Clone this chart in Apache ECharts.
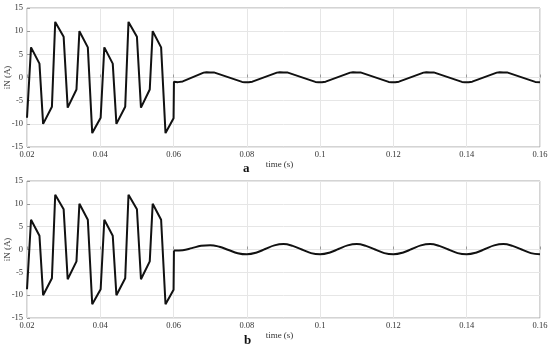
<!DOCTYPE html>
<html>
<head>
<meta charset="utf-8">
<script src="https://cdn.jsdelivr.net/npm/echarts@6/dist/echarts.min.js"></script>
<style>html,body{margin:0;padding:0;background:#fff}#c{width:550px;height:350px}</style>
</head>
<body>
<div id="c"></div>
<script>
// switching interval (identical in a and b), t in s, iN in A
var swTime = [0.0200,0.0211,0.0234,0.0244,0.0268,0.0277,0.0300,0.0311,0.0335,0.0343,0.0366,0.0378,
              0.0401,0.0411,0.0434,0.0444,0.0468,0.0477,0.0500,0.0511,0.0535,0.0543,0.0566,0.0578,0.0600];
var swCurr = [-8.7,6.5,3.0,-10.0,-6.3,12.0,8.8,-6.5,-2.6,10.0,6.5,-12.0,
              -8.7,6.5,3.0,-10.0,-6.3,12.0,8.8,-6.5,-2.6,10.0,6.5,-12.0,-8.8];

// (a) after 0.06 s
var aTime = [0.0601,0.0612,0.0625,0.0682,0.0690,0.0700,0.0710,
             0.0787,0.0795,0.0805,0.0815,0.0882,0.0890,0.0900,0.0910,
             0.0987,0.0995,0.1005,0.1015,0.1082,0.1090,0.1100,0.1110,
             0.1187,0.1195,0.1205,0.1215,0.1282,0.1290,0.1300,0.1310,
             0.1387,0.1395,0.1405,0.1415,0.1482,0.1490,0.1500,0.1510,
             0.1587,0.1600];
var aCurr = [-0.9,-1.0,-0.85,1.05,1.15,1.1,1.1,
             -0.95,-1.0,-1.0,-0.9,1.05,1.15,1.1,1.1,
             -0.95,-1.0,-1.0,-0.9,1.05,1.15,1.1,1.1,
             -0.95,-1.0,-1.0,-0.9,1.05,1.15,1.1,1.1,
             -0.95,-1.0,-1.0,-0.9,1.05,1.15,1.1,1.1,
             -0.95,-1.0];

// (b) after 0.06 s
var bTime = [0.0601,0.0625,0.0650,0.0675,0.0700,0.0725,0.0750,0.0775,0.0800,0.0825,0.0850,0.0875,
             0.0900,0.0925,0.0950,0.0975,0.1000,0.1025,0.1050,0.1075,0.1100,0.1125,0.1150,0.1175,
             0.1200,0.1225,0.1250,0.1275,0.1300,0.1325,0.1350,0.1375,0.1400,0.1425,0.1450,0.1475,
             0.1500,0.1525,0.1550,0.1575,0.1600];
var bCurr = [-0.2,-0.15,0.3,0.8,0.95,0.6,-0.1,-0.8,-1.05,-0.7,0.1,0.9,
             1.2,0.8,0.0,-0.8,-1.05,-0.7,0.1,0.9,1.2,0.8,0.0,-0.8,
             -1.05,-0.7,0.1,0.9,1.2,0.8,0.0,-0.8,-1.05,-0.7,0.1,0.9,
             1.2,0.8,0.0,-0.8,-1.05];

var xTicks = [0.02,0.04,0.06,0.08,0.1,0.12,0.14,0.16];
var yTicks = [-15,-10,-5,0,5,10,15];
var yName = 'iN (A)', xName = 'time (s)';

function pairs(t, v){ return t.map(function(x,i){ return [x, v[i]]; }); }
var swPairs = pairs(swTime, swCurr);

var font = 'Liberation Serif';
function xAx(gi){
  return {
    type:'value', gridIndex:gi, min:xTicks[0], max:xTicks[xTicks.length-1], interval:0.02,
    name:xName, nameLocation:'middle', nameGap:13, nameMoveOverlap:false,
    nameTextStyle:{fontFamily:font, fontSize:9, color:'#333', padding:[0,0,0,-8]},
    axisLine:{show:false},
    axisTick:{show:true, inside:true, length:3, lineStyle:{color:'#999'}},
    axisLabel:{fontFamily:font, fontSize:8.5, color:'#333', margin:3,
      formatter:function(v){ return String(parseFloat(v.toFixed(3))); }},
    splitLine:{show:true, lineStyle:{color:'#e6e6e6', width:1}}
  };
}
function yAx(gi){
  return {
    type:'value', gridIndex:gi, min:yTicks[0], max:yTicks[yTicks.length-1], interval:5,
    name:yName, nameLocation:'middle', nameGap:15, nameRotate:90, nameMoveOverlap:false,
    nameTextStyle:{fontFamily:font, fontSize:9, color:'#333'},
    axisLine:{show:false},
    axisTick:{show:true, inside:true, length:3, lineStyle:{color:'#999'}},
    axisLabel:{fontFamily:font, fontSize:8.5, color:'#333', margin:4},
    splitLine:{show:true, lineStyle:{color:'#e6e6e6', width:1}}
  };
}
var ls = {color:'#111', width:2};
var chart = echarts.init(document.getElementById('c'), null, {renderer:'canvas'});
chart.setOption({
  animation:false,
  backgroundColor:'#fff',
  grid:[
    {left:27, right:10, top:8, height:139, show:true, borderColor:'#a8a8a8', borderWidth:1, backgroundColor:'transparent', containLabel:false, outerBoundsMode:'none'},
    {left:27, right:10, top:181, height:137, show:true, borderColor:'#a8a8a8', borderWidth:1, backgroundColor:'transparent', containLabel:false, outerBoundsMode:'none'}
  ],
  xAxis:[xAx(0), xAx(1)],
  yAxis:[yAx(0), yAx(1)],
  graphic:[
    {type:'text', left:243, top:162, style:{text:'a', font:'bold 13px "Liberation Serif"', fill:'#111'}},
    {type:'text', left:244, top:334, style:{text:'b', font:'bold 13px "Liberation Serif"', fill:'#111'}}
  ],
  series:[
    {type:'line', xAxisIndex:0, yAxisIndex:0, showSymbol:false, lineStyle:ls, data:swPairs.concat(pairs(aTime,aCurr))},
    {type:'line', xAxisIndex:1, yAxisIndex:1, showSymbol:false, lineStyle:ls, data:swPairs.concat([[bTime[0],bCurr[0]]])},
    {type:'line', xAxisIndex:1, yAxisIndex:1, showSymbol:false, lineStyle:ls, smooth:0.4, data:pairs(bTime,bCurr)}
  ]
});
</script>
</body>
</html>
